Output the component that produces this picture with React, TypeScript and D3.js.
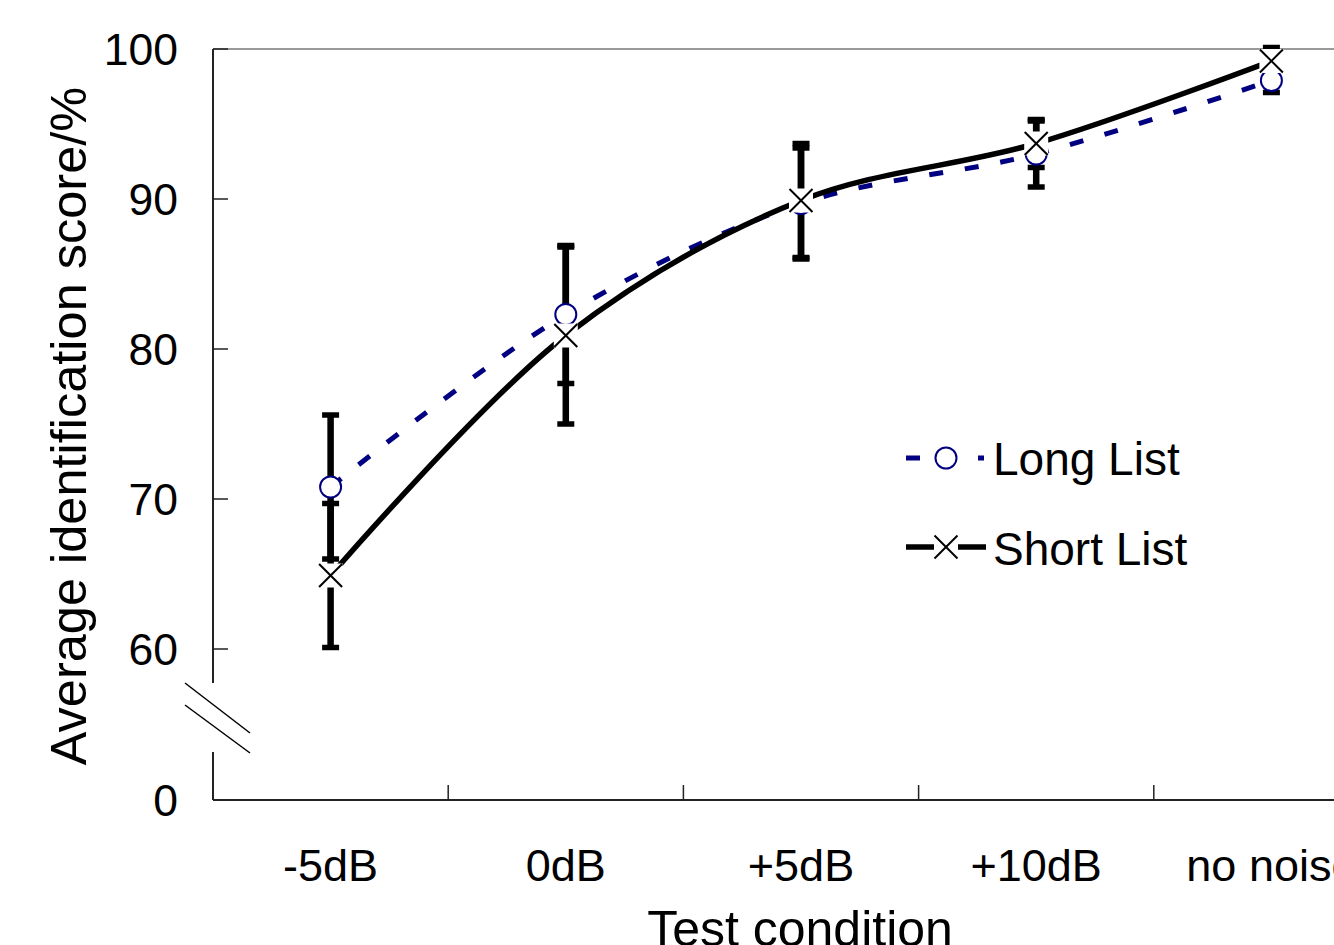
import React from "react";
import * as d3 from "d3";

const categories = ["-5dB", "0dB", "+5dB", "+10dB", "no noise"];
const longList = [70.8, 82.3, 89.7, 93.0, 97.9];
const shortList = [64.9, 80.9, 89.9, 93.7, 99.2];
const longErr = [4.8, 4.6, 3.7, 2.2, 0.8];
const shortErr = [4.8, 5.9, 3.8, 1.6, 0.9];
const yTicks = [0, 60, 70, 80, 90, 100];
const xTitle = "Test condition";
const yTitle = "Average identification score/%";
const seriesNames = ["Long List", "Short List"];

const W = 1334;
const H = 945;
const FONT = "'Liberation Sans', Arial, sans-serif";
const NAVY = "#000080";

export default function App() {
  const left = 213;
  const bandW = 235.2;
  const x = d3
    .scaleBand<string>()
    .domain(categories)
    .range([left, left + bandW * categories.length])
    .padding(0);
  const cx = (c: string) => (x(c) as number) + x.bandwidth() / 2;
  const y = d3.scaleLinear().domain([0, 60, 100]).range([800, 649, 49]);

  const line = d3
    .line<[number, number]>()
    .x((d) => d[0])
    .y((d) => d[1])
    .curve(d3.curveCatmullRom.alpha(0.5));

  const longPts: [number, number][] = categories.map((c, i) => [cx(c), y(longList[i])]);
  const shortPts: [number, number][] = categories.map((c, i) => [cx(c), y(shortList[i])]);

  const xTicks = categories.slice(1).map((c) => x(c) as number);

  const errBar = (v: number, e: number, xc: number, key: string) => (
    <g key={key}>
      <line x1={xc} x2={xc} y1={y(v + e)} y2={y(v - e)} stroke="#000" strokeWidth={6.5} />
      <line x1={xc - 8.5} x2={xc + 8.5} y1={y(v + e)} y2={y(v + e)} stroke="#000" strokeWidth={5.5} />
      <line x1={xc - 8.5} x2={xc + 8.5} y1={y(v - e)} y2={y(v - e)} stroke="#000" strokeWidth={5.5} />
    </g>
  );

  const circleMarker = (px: number, py: number, key: string) => (
    <circle key={key} cx={px} cy={py} r={10.5} fill="#fff" stroke={NAVY} strokeWidth={2} />
  );
  const xMarker = (px: number, py: number, key: string) => (
    <g key={key}>
      <rect x={px - 12} y={py - 12} width={24} height={24} fill="#fff" />
      <line x1={px - 11.5} y1={py - 11.5} x2={px + 11.5} y2={py + 11.5} stroke="#000" strokeWidth={2} />
      <line x1={px - 11.5} y1={py + 11.5} x2={px + 11.5} y2={py - 11.5} stroke="#000" strokeWidth={2} />
    </g>
  );

  const legX1 = 906;
  const legX2 = 984;
  const legMid = 946;
  const legY1 = 458;
  const legY2 = 547;

  return (
    <svg
      width={W}
      height={H}
      style={{ position: "absolute", left: 0, top: 0, background: "#fff" }}
      fontFamily={FONT}
    >
      <rect x={0} y={0} width={W} height={H} fill="#fff" />
      {/* top border */}
      <line x1={left} x2={W} y1={y(100)} y2={y(100)} stroke="#999" strokeWidth={2} />
      {/* y axis with break */}
      <line x1={left} x2={left} y1={y(100)} y2={683} stroke="#222" strokeWidth={2} />
      <line x1={left} x2={left} y1={752} y2={y(0)} stroke="#222" strokeWidth={2} />
      <line x1={185} y1={683} x2={250} y2={733} stroke="#000" strokeWidth={1.5} />
      <line x1={185} y1={705} x2={250} y2={753} stroke="#000" strokeWidth={1.5} />
      {/* x axis */}
      <line x1={left} x2={W} y1={y(0)} y2={y(0)} stroke="#222" strokeWidth={2} />
      {xTicks.map((t, i) => (
        <line key={"xt" + i} x1={t} x2={t} y1={y(0)} y2={y(0) - 15} stroke="#222" strokeWidth={1.5} />
      ))}
      {yTicks.map((t) => (
        <g key={"yt" + t}>
          {t > 0 && <line x1={left} x2={left + 15} y1={y(t)} y2={y(t)} stroke="#222" strokeWidth={1.5} />}
          <text x={178} y={y(t)} dy="0.36em" textAnchor="end" fontSize={44.5} fill="#000">
            {t}
          </text>
        </g>
      ))}
      {categories.map((c) => (
        <text key={"xl" + c} x={cx(c)} y={881} textAnchor="middle" fontSize={45} fill="#000">
          {c}
        </text>
      ))}
      <text x={800} y={946} textAnchor="middle" fontSize={50} fill="#000">
        {xTitle}
      </text>
      <text
        transform={`translate(86, 426) rotate(-90)`}
        textAnchor="middle"
        fontSize={50.5}
        fill="#000"
      >
        {yTitle}
      </text>

      {/* lines */}
      <path d={line(longPts) || ""} fill="none" stroke={NAVY} strokeWidth={5} strokeDasharray="14,22" />
      <path d={line(shortPts) || ""} fill="none" stroke="#000" strokeWidth={5.5} />

      {/* error bars */}
      {categories.map((c, i) => errBar(longList[i], longErr[i], cx(c), "el" + i))}
      {categories.map((c, i) => errBar(shortList[i], shortErr[i], cx(c), "es" + i))}

      {/* markers */}
      {longPts.map((p, i) => circleMarker(p[0], p[1], "cm" + i))}
      {shortPts.map((p, i) => xMarker(p[0], p[1], "xm" + i))}

      {/* legend */}
      <line x1={legX1} x2={legX2} y1={legY1} y2={legY1} stroke={NAVY} strokeWidth={5} strokeDasharray="14,22" />
      {circleMarker(legMid, legY1, "lc")}
      <text x={993} y={475} fontSize={46} fill="#000">
        {seriesNames[0]}
      </text>
      <line x1={legX1} x2={legX2 + 2} y1={legY2} y2={legY2} stroke="#000" strokeWidth={5.5} />
      {xMarker(legMid, legY2, "lx")}
      <text x={993} y={565} fontSize={46} fill="#000">
        {seriesNames[1]}
      </text>
    </svg>
  );
}
